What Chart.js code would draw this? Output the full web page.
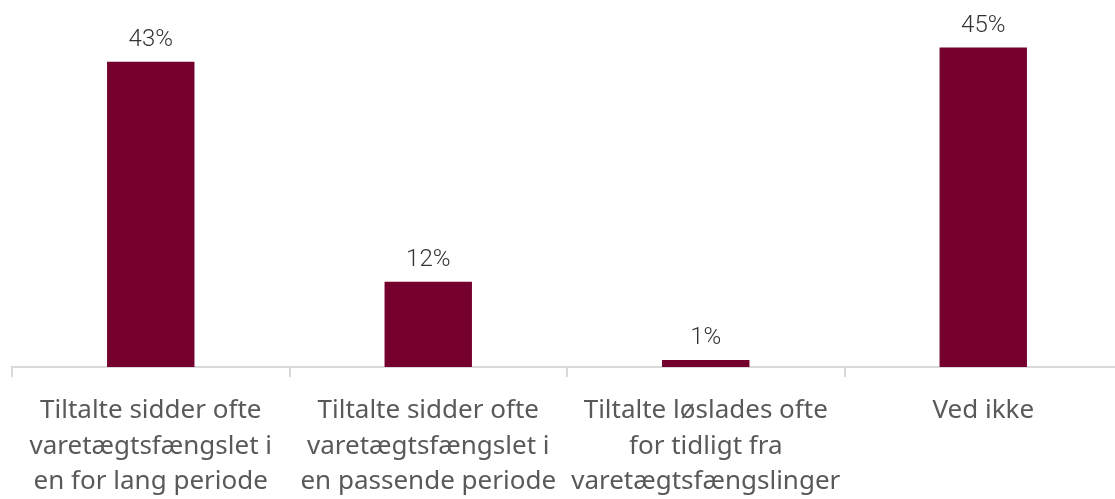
<!DOCTYPE html>
<html>
<head>
<meta charset="utf-8">
<script src="https://cdn.jsdelivr.net/npm/chart.js@4"></script>
<style>
  html, body { margin: 0; padding: 0; background: #fff; overflow: hidden; }
  #wrap { position: relative; width: 1125px; height: 499px; }
</style>
</head>
<body>
<div id="wrap"><canvas id="chart"></canvas></div>
<script>
// ---- data ----
const categories = [
  ["Tiltalte sidder ofte", "varetægtsfængslet i", "en for lang periode"],
  ["Tiltalte sidder ofte", "varetægtsfængslet i", "en passende periode"],
  ["Tiltalte løslades ofte", "for tidligt fra", "varetægtsfængslinger"],
  ["Ved ikke"]
];
const shares = [43, 12, 1, 45];
const yMax = 50;

const BAR_COLOR = "#75002d";
const AXIS_COLOR = "#d9d9d9";

// value labels above each bar
const valueLabels = {
  id: "valueLabels",
  afterDatasetsDraw(chart) {
    const ctx = chart.ctx;
    const meta = chart.getDatasetMeta(0);
    ctx.save();
    ctx.font = "300 24px Roboto";
    ctx.fillStyle = "#333333";
    ctx.textAlign = "center";
    ctx.textBaseline = "alphabetic";
    meta.data.forEach((bar, i) => {
      ctx.fillText(shares[i] + "%", bar.x, bar.y - 16);
    });
    ctx.restore();
  }
};

const ctx = document.getElementById("chart").getContext("2d");
new Chart(ctx, {
  type: "bar",
  data: {
    labels: categories,
    datasets: [{
      data: shares,
      backgroundColor: BAR_COLOR,
      barPercentage: 0.315,
      categoryPercentage: 1
    }]
  },
  options: {
    responsive: true,
    maintainAspectRatio: false,
    animation: false,
    layout: { padding: { left: 12, right: 3, top: 12, bottom: 0 } },
    plugins: { legend: { display: false }, tooltip: { enabled: false } },
    scales: {
      x: {
        afterFit: (scale) => { scale.height = 132; },
        grid: {
          offset: true,
          drawOnChartArea: false,
          drawTicks: true,
          tickLength: 10,
          color: AXIS_COLOR,
          lineWidth: 2
        },
        border: { display: true, color: AXIS_COLOR, width: 2 },
        ticks: {
          color: "#595959",
          font: { family: "'Noto Sans'", size: 26, lineHeight: 1.365 },
          padding: 16,
          maxRotation: 0,
          autoSkip: false
        }
      },
      y: {
        display: false,
        min: 0,
        max: yMax
      }
    }
  },
  plugins: [valueLabels]
});
</script>
</body>
</html>
